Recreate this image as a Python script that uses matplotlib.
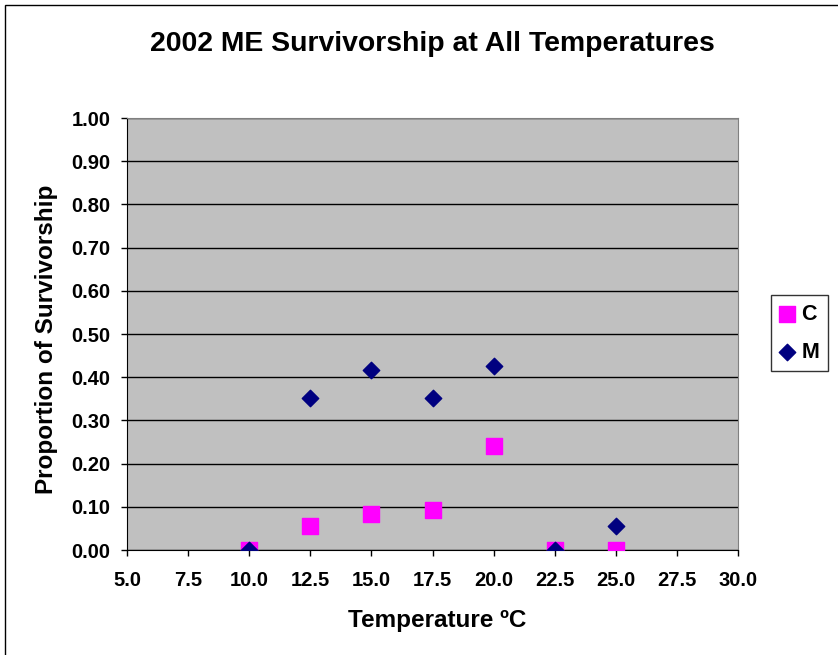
import matplotlib.pyplot as plt
from matplotlib.patches import Rectangle

# Данные
temps = [10.0, 12.5, 15.0, 17.5, 20.0, 22.5, 25.0]
surv_c = [0.0, 0.055, 0.083, 0.092, 0.24, 0.0, 0.0]
surv_m = [0.0, 0.352, 0.417, 0.352, 0.426, 0.0, 0.056]
x_ticks = [5.0, 7.5, 10.0, 12.5, 15.0, 17.5, 20.0, 22.5, 25.0, 27.5, 30.0]
y_ticks = [0.0, 0.1, 0.2, 0.3, 0.4, 0.5, 0.6, 0.7, 0.8, 0.9, 1.0]

plt.rcParams['font.family'] = ['Liberation Sans', 'DejaVu Sans']
plt.rcParams['font.weight'] = 'bold'

W, H = 838, 655
fig = plt.figure(figsize=(W / 100, H / 100), dpi=100)

# Рамка вокруг всей диаграммы (справа и снизу уходит за край)
fig.patches.append(Rectangle((5 / W, -0.1), 1.2, (650 / H) + 0.1,
                             transform=fig.transFigure, fill=False,
                             edgecolor='black', linewidth=1))

ax = fig.add_axes([127 / W, 105 / H, 611 / W, 432 / H])
ax.set_facecolor('#C0C0C0')

ax.scatter(temps, surv_c, marker='s', s=130, color='#FF00FF', label='C', zorder=3)
ax.scatter(temps, surv_m, marker='D', s=70, color='#000080', label='M', zorder=4)

ax.set_xlim(5, 30)
ax.set_ylim(0, 1)
ax.set_xticks(x_ticks)
ax.set_yticks(y_ticks)
ax.set_xticklabels([f'{v:.1f}' for v in x_ticks], fontsize=14.5, fontweight='bold')
ax.set_yticklabels([f'{v:.2f}' for v in y_ticks], fontsize=14.5, fontweight='bold')
ax.tick_params(direction='out', length=4.3, width=1, color='black')
ax.tick_params(axis='x', pad=10.5)
ax.tick_params(axis='y', pad=7.5)

ax.yaxis.grid(True, color='black', linewidth=1)
ax.set_axisbelow(True)
for side in ['top', 'right']:
    ax.spines[side].set_color('#808080')
for side in ['left', 'bottom']:
    ax.spines[side].set_color('black')

ax.set_title('2002 ME Survivorship at All Temperatures', fontsize=20.4,
             fontweight='bold', pad=48)

ax.set_xlabel('Temperature ºC', fontsize=17.5, fontweight='bold')
ax.xaxis.label.set_va('baseline')
ax.xaxis.set_label_coords(437 / W, (H - 627) / H, transform=fig.transFigure)

ax.set_ylabel('Proportion of Survivorship', fontsize=17.5, fontweight='bold')
ax.yaxis.label.set_va('center')
ax.yaxis.set_label_coords(46 / W, (H - 339) / H, transform=fig.transFigure)

leg = ax.legend(loc='upper left', bbox_to_anchor=(771 / W, (H - 295) / H),
                bbox_transform=fig.transFigure, borderaxespad=0,
                frameon=True, fancybox=False, edgecolor='black',
                prop={'size': 15.5, 'weight': 'bold'},
                handletextpad=0.3, borderpad=0.4, labelspacing=0.8,
                handlelength=0.72, scatterpoints=1)
leg.get_frame().set_linewidth(1)

plt.savefig('out.png', dpi=100)
plt.close()
